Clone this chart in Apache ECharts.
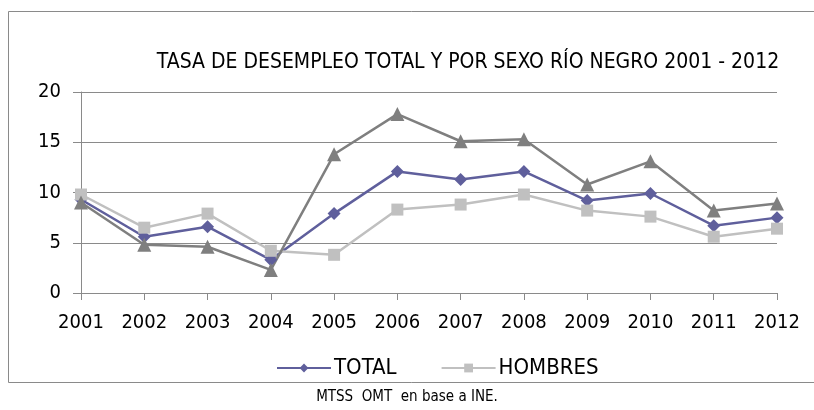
<!DOCTYPE html>
<html>
<head>
<meta charset="utf-8">
<script src="https://cdn.jsdelivr.net/npm/echarts@6/dist/echarts.min.js"></script>
<style>
  html, body { margin: 0; padding: 0; background: #fff; }
  #chart { width: 814px; height: 410px; }
</style>
</head>
<body>
<div id="chart"></div>
<script>
  // datos
  var years = ['2001','2002','2003','2004','2005','2006','2007','2008','2009','2010','2011','2012'];
  var total = [9.3, 5.6, 6.6, 3.3, 7.9, 12.1, 11.3, 12.1, 9.2, 9.9, 6.7, 7.5];
  var hombres = [9.8, 6.5, 7.9, 4.2, 3.8, 8.3, 8.8, 9.8, 8.2, 7.6, 5.6, 6.4];
  var mujeres = [9.0, 4.8, 4.6, 2.3, 13.8, 17.8, 15.1, 15.3, 10.8, 13.1, 8.2, 8.9];
  var yTicks = [0, 5, 10, 15, 20];

  var font = "'Liberation Sans Narrow', 'DejaVu Sans Condensed', 'Open Sans', sans-serif";
  var chart = echarts.init(document.getElementById('chart'));

  chart.setOption({
    animation: false,
    title: {
      text: 'TASA DE DESEMPLEO TOTAL Y POR SEXO RÍO NEGRO 2001 - 2012',
      left: 463,
      top: 47,
      textAlign: 'center',
      textStyle: { fontFamily: font, fontSize: 21, fontWeight: 'normal', color: '#000' }
    },
    graphic: [
      {
        type: 'rect',
        shape: { x: 8.5, y: 11.5, width: 900, height: 371 },
        style: { fill: 'none', stroke: '#8a8a8a', lineWidth: 1 },
        z: -1
      },
      {
        type: 'text',
        left: 'center',
        top: 390,
        style: { text: 'MTSS  OMT  en base a INE.', font: '15px ' + font, fill: '#000' }
      }
    ],
    legend: {
      data: ['TOTAL', 'HOMBRES'],
      top: 352,
      left: 271,
      itemWidth: 54,
      itemHeight: 11,
      itemGap: 44,
      textStyle: { fontFamily: font, fontSize: 22, color: '#000', padding: [0, 0, 0, -2] }
    },
    grid: { left: 81, right: 37, top: 92, bottom: 117 },
    xAxis: {
      type: 'category',
      data: years,
      boundaryGap: false,
      axisLine: { lineStyle: { color: '#8a8a8a' } },
      axisTick: { alignWithLabel: true, length: 7, lineStyle: { color: '#8a8a8a' } },
      axisLabel: { margin: 20, fontFamily: font, fontSize: 20, color: '#000' }
    },
    yAxis: {
      type: 'value',
      min: yTicks[0],
      max: yTicks[yTicks.length - 1],
      interval: 5,
      axisLine: { show: true, lineStyle: { color: '#8a8a8a' } },
      axisTick: { show: true, length: 8, lineStyle: { color: '#8a8a8a' } },
      axisLabel: { margin: 20, fontFamily: font, fontSize: 20, color: '#000' },
      splitLine: { lineStyle: { color: '#8a8a8a' } }
    },
    series: [
      {
        name: 'TOTAL', type: 'line', data: total,
        symbol: 'diamond', symbolSize: 13,
        lineStyle: { color: '#5f5f9c', width: 2.5 },
        itemStyle: { color: '#5f5f9c' }
      },
      {
        name: 'HOMBRES', type: 'line', data: hombres,
        symbol: 'rect', symbolSize: 12,
        lineStyle: { color: '#c0c0c0', width: 2.5 },
        itemStyle: { color: '#c0c0c0' }
      },
      {
        name: 'MUJERES', type: 'line', data: mujeres,
        symbol: 'triangle', symbolSize: 14,
        lineStyle: { color: '#7f7f7f', width: 2.5 },
        itemStyle: { color: '#7f7f7f' }
      }
    ]
  });
</script>
</body>
</html>
